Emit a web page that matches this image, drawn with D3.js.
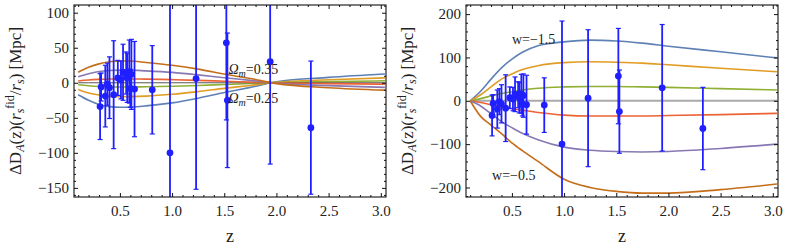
<html>
<script src='https://d3js.org/d3.v7.min.js'></script>
<style>
    body { margin: 0; background: white; }
    text { font-family: "Liberation Serif", "Times New Roman", "DejaVu Serif", serif; }
</style>

<body>
    <div id="chart"></div>
    <script>
        // measured points (same data in both panels)
        var zData  = [0.31, 0.32, 0.36, 0.38, 0.40, 0.44, 0.48, 0.51, 0.53, 0.56, 0.57, 0.59, 0.60, 0.61, 0.64, 0.81, 0.98, 1.23, 1.52, 1.53, 1.94, 2.33];
        var dDA    = [-34, -6, -19, -2, -7, -17, 7, 4, 15, 14, 7, 16, -8, 12, -9, -10, -100, 6, 57, -25, 30, -64];
        var dDAerr = [47, 20, 44, 30, 44, 77, 25, 27, 40, 30, 35, 45, 27, 50, 68, 63, 284, 158, 110, 96, 146, 95];

        // model curves, sampled at zGrid
        var zGrid = [0.1, 0.2, 0.3, 0.4, 0.5, 0.6, 0.75, 1.0, 1.25, 1.5, 1.75, 2.0, 2.5, 3.04];

        // left: Omega_m = 0.25 ... 0.35
        var omBlue   = [-17, -25, -31, -34, -35, -34.7, -33, -28.7, -22, -14, -6.6, 1.4, 7.7, 12.5];
        var omOrange = [-9.5, -14.5, -17.5, -19.4, -20, -19.8, -19, -16.4, -12.6, -8, -3.8, 0.8, 4.4, 7];
        var omGreen  = [-2.9, -4.3, -5.3, -5.8, -6, -5.9, -5.7, -4.9, -3.8, -2.4, -1.1, 0.2, 1.6, 2.8];
        var omFid    = [0, 0, 0, 0, 0, 0, 0, 0, 0, 0, 0, 0, 0, 0];
        var omRed    = [2.6, 4, 4.8, 5.3, 5.5, 5.4, 5.2, 4.5, 3.5, 2.2, 1, -0.2, -1.2, -2];
        var omPurple = [8.5, 13, 16, 17.5, 18, 18, 17, 14.8, 11.3, 7.2, 3.4, -0.7, -4, -6.5];
        var omBrown  = [15, 22, 27, 30, 31, 31, 29, 25, 19.5, 12.5, 6, -1.2, -7, -10.5];

        // right: w = -1.5 ... -0.5
        var wBlue   = [0, 22, 50, 76, 96, 112, 127, 136, 140, 138, 133, 126, 113, 99];
        var wOrange = [0, 14, 32, 50, 62, 72, 81, 88, 90, 89, 87, 83, 75, 67];
        var wGreen  = [0, 5, 11, 17, 21, 25, 29, 32, 33, 33, 32, 31, 28, 25];
        var wFid    = [0, 0, 0, 0, 0, 0, 0, 0, 0, 0, 0, 0, 0, 0];
        var wRed    = [0, -4, -9, -14, -18, -22, -27, -33, -35, -35, -35, -34, -32, -29];
        var wPurple = [0, -12, -30, -48, -62, -75, -90, -107, -114, -117, -118, -117, -110, -100];
        var wBrown  = [0, -36, -56, -76, -97, -115, -140, -181, -200, -209, -213, -213, -205, -192];

        var xTicks = [0.5, 1.0, 1.5, 2.0, 2.5, 3.0];
        var yTicksLeft = [-150, -100, -50, 0, 50, 100];
        var yTicksRight = [-200, -100, 0, 100, 200];

        var colors = {
            blue: "#5E81B5", orange: "#E19C24", green: "#8FB032", red: "#EB6235",
            purple: "#8778B3", brown: "#C56E1A"
        };
        var serif = '"Liberation Serif", "Times New Roman", "DejaVu Serif", serif';

        const svg = d3.select("#chart").append("svg")
            .attr("width", 789)
            .attr("height", 251);

        function drawPanel(opts) {
            const left = opts.left, right = opts.right, top = 5, bottom = 197;
            const x = d3.scaleLinear().domain([0.06, 3.05]).range([left, right]);
            const y = d3.scaleLinear().domain(opts.yDomain).range([bottom, top]);
            const g = svg.append("g");

            g.append("clipPath").attr("id", opts.id + "-clip")
                .append("rect")
                .attr("x", left).attr("y", top)
                .attr("width", right - left).attr("height", bottom - top);

            const plot = g.append("g").attr("clip-path", `url(#${opts.id}-clip)`);

            const line = d3.line()
                .x((d, i) => x(zGrid[i]))
                .y(d => y(d))
                .curve(d3.curveMonotoneX);

            opts.curves.forEach(c => {
                plot.append("path")
                    .datum(c.values)
                    .attr("fill", "none")
                    .attr("stroke", c.color)
                    .attr("stroke-width", c.width || 1.6)
                    .attr("d", line);
            });

            // error bars
            zData.forEach((z, i) => {
                const cx = x(z);
                const y0 = y(dDA[i] - dDAerr[i]), y1 = y(dDA[i] + dDAerr[i]);
                plot.append("line")
                    .attr("x1", cx).attr("x2", cx)
                    .attr("y1", y0).attr("y2", y1)
                    .attr("stroke", "#1f1fff").attr("stroke-width", 1.8);
                [y0, y1].forEach(yy => {
                    plot.append("line")
                        .attr("x1", cx - 2.5).attr("x2", cx + 2.5)
                        .attr("y1", yy).attr("y2", yy)
                        .attr("stroke", "#1f1fff").attr("stroke-width", 1.2);
                });
            });
            plot.selectAll("circle")
                .data(zData)
                .enter()
                .append("circle")
                .attr("cx", d => x(d))
                .attr("cy", (d, i) => y(dDA[i]))
                .attr("r", 3.4)
                .attr("fill", "#1f1fff");

            // frame with inward ticks on all sides
            const xMinor = d3.range(0.1, 3.01, 0.1).filter(v => Math.abs(v * 2 - Math.round(v * 2)) > 0.01);
            const yMinor = d3.range(opts.yDomain[0] - opts.yDomain[0] % opts.minor, opts.yDomain[1], opts.minor)
                .filter(v => v % opts.major !== 0);

            function styleAxis(sel) {
                sel.attr("font-family", serif).attr("font-size", 15);
                sel.select(".domain").remove();
                sel.selectAll("text").attr("fill", "#222");
                sel.selectAll("line").attr("stroke", "#111");
            }

            g.append("g").attr("transform", `translate(0,${bottom})`)
                .call(d3.axisBottom(x).tickValues(xTicks).tickFormat(d3.format(".1f")).tickSize(-4).tickPadding(8))
                .call(styleAxis);
            g.append("g").attr("transform", `translate(0,${bottom})`)
                .call(d3.axisBottom(x).tickValues(xMinor).tickFormat("").tickSize(-2))
                .call(styleAxis);
            g.append("g").attr("transform", `translate(0,${top})`)
                .call(d3.axisTop(x).tickValues(xTicks).tickFormat("").tickSize(-4))
                .call(styleAxis);
            g.append("g").attr("transform", `translate(0,${top})`)
                .call(d3.axisTop(x).tickValues(xMinor).tickFormat("").tickSize(-2))
                .call(styleAxis);

            g.append("g").attr("transform", `translate(${left},0)`)
                .call(d3.axisLeft(y).tickValues(opts.yTicks).tickSize(-4).tickPadding(5))
                .call(styleAxis);
            g.append("g").attr("transform", `translate(${left},0)`)
                .call(d3.axisLeft(y).tickValues(yMinor).tickFormat("").tickSize(-2))
                .call(styleAxis);
            g.append("g").attr("transform", `translate(${right},0)`)
                .call(d3.axisRight(y).tickValues(opts.yTicks).tickFormat("").tickSize(-4))
                .call(styleAxis);
            g.append("g").attr("transform", `translate(${right},0)`)
                .call(d3.axisRight(y).tickValues(yMinor).tickFormat("").tickSize(-2))
                .call(styleAxis);

            g.append("rect")
                .attr("x", left).attr("y", top)
                .attr("width", right - left).attr("height", bottom - top)
                .attr("fill", "none").attr("stroke", "#111").attr("stroke-width", 1.1);

            // axis labels
            g.append("text")
                .attr("x", (left + right) / 2).attr("y", 242)
                .attr("text-anchor", "middle")
                .style("font-size", "18px").attr("fill", "#222")
                .text("z");

            const yl = g.append("text")
                .attr("transform", `translate(${opts.labelX},101) rotate(-90)`)
                .attr("text-anchor", "middle")
                .style("font-size", "17px").attr("fill", "#222");
            yl.append("tspan").text("ΔD");
            yl.append("tspan").text("A").style("font-style", "italic").style("font-size", "12px").attr("dy", 3);
            yl.append("tspan").text("(z)(").attr("dy", -3);
            yl.append("tspan").text("r").style("font-style", "italic");
            yl.append("tspan").text("s").style("font-style", "italic").style("font-size", "12px").attr("dy", 3);
            yl.append("tspan").text("fid").style("font-size", "12px").attr("dy", -10);
            yl.append("tspan").text("/").attr("dy", 7);
            yl.append("tspan").text("r").style("font-style", "italic");
            yl.append("tspan").text("s").style("font-style", "italic").style("font-size", "12px").attr("dy", 3);
            yl.append("tspan").text(") [Mpc]").attr("dy", -3);

            opts.notes.forEach(n => {
                const t = g.append("text")
                    .attr("x", x(n.z)).attr("y", y(n.v))
                    .style("font-size", "14px").attr("fill", "#222");
                if (n.sub) {
                    t.append("tspan").text(n.main).style("font-style", "italic");
                    t.append("tspan").text(n.sub).style("font-style", "italic").style("font-size", "10px").attr("dy", 3);
                    t.append("tspan").text(n.rest).attr("dy", -3);
                } else {
                    t.append("tspan").text(n.main);
                    t.append("tspan").text(n.rest);
                }
            });
        }

        drawPanel({
            id: "om", left: 74, right: 386, labelX: 21,
            yDomain: [-163, 111], yTicks: yTicksLeft, major: 50, minor: 10,
            curves: [
                { values: omBlue, color: colors.blue },
                { values: omOrange, color: colors.orange },
                { values: omGreen, color: colors.green },
                { values: omFid, color: "#555", width: 1 },
                { values: omRed, color: colors.red },
                { values: omPurple, color: colors.purple },
                { values: omBrown, color: colors.brown }
            ],
            notes: [
                { z: 1.54, v: 12, main: "Ω", sub: "m", rest: "=0.35" },
                { z: 1.54, v: -29, main: "Ω", sub: "m", rest: "=0.25" }
            ]
        });

        drawPanel({
            id: "w", left: 466, right: 778, labelX: 413,
            yDomain: [-222, 221], yTicks: yTicksRight, major: 100, minor: 20,
            curves: [
                { values: wFid, color: "#aaa", width: 2 },
                { values: wBlue, color: colors.blue },
                { values: wOrange, color: colors.orange },
                { values: wGreen, color: colors.green },
                { values: wRed, color: colors.red },
                { values: wPurple, color: colors.purple },
                { values: wBrown, color: colors.brown }
            ],
            notes: [
                { z: 0.5, v: 131, main: "w", rest: "=−1.5" },
                { z: 0.31, v: -183, main: "w", rest: "=−0.5" }
            ]
        });
    </script>
</body>

</html>
